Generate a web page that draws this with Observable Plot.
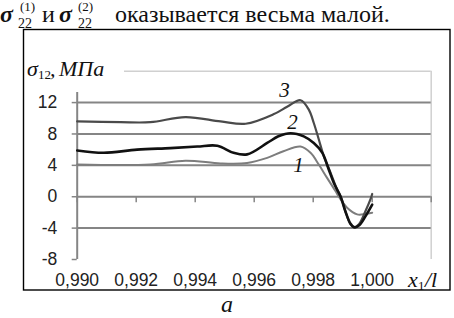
<!DOCTYPE html>
<html><head><meta charset="utf-8">
<script src="https://cdn.jsdelivr.net/npm/d3@7"></script>
<script src="https://cdn.jsdelivr.net/npm/@observablehq/plot@0.6"></script>
<style>
html,body{margin:0;padding:0;background:#fff;}
#wrap{position:relative;width:454px;height:318px;overflow:hidden;background:#fff;}
#wrap > svg{position:absolute;left:0;top:0;}
.ser{font-family:"Liberation Serif","Times New Roman","DejaVu Serif",serif;}
</style></head><body>
<div id="wrap"></div>
<script>
// ---- data ----
const curve1X = [0.99000, 0.99248, 0.99367, 0.99486, 0.99576, 0.99644, 0.99699, 0.99757, 0.99791, 0.99819, 0.99847, 0.99876, 0.99887, 0.99915, 0.99949, 0.99977, 1.00000];
const curve1Y = [4.1, 4.1, 4.6, 4.25, 4.3, 4.95, 5.8, 6.4, 5.6, 4.1, 2.4, 0.7, 0, -1.4, -2.25, -2.2, -2.05];
const curve2X = [0.99000, 0.99090, 0.99203, 0.99316, 0.99407, 0.99475, 0.99530, 0.99576, 0.99644, 0.99682, 0.99723, 0.99768, 0.99802, 0.99831, 0.99853, 0.99870, 0.99893, 0.99909, 0.99926, 0.99940, 0.99957, 0.99977, 1.00000];
const curve2Y = [5.9, 5.6, 6.0, 6.2, 6.4, 6.5, 5.6, 5.4, 6.85, 7.7, 8.1, 7.7, 6.85, 5.6, 3.45, 1.75, 0, -1.85, -3.4, -3.9, -3.6, -2.5, -1.0];
const curve3X = [0.99000, 0.99147, 0.99248, 0.99367, 0.99486, 0.99571, 0.99665, 0.99713, 0.99757, 0.99785, 0.99802, 0.99819, 0.99836, 0.99859, 0.99881, 0.99893, 0.99909, 0.99926, 0.99938, 0.99955, 0.99977, 0.99994, 1.00000];
const curve3Y = [9.6, 9.5, 9.5, 10.15, 9.6, 9.3, 10.5, 11.5, 12.3, 11.1, 9.4, 7.3, 5.15, 3.05, 0.9, 0.05, -1.85, -3.5, -3.9, -3.5, -1.85, -0.35, 0.35];
const curveNames = ["1", "2", "3"];
const xDomain = [0.990, 1.002];
const yDomain = [-8, 16];
const xTickValues = [0.990, 0.992, 0.994, 0.996, 0.998, 1.000, 1.002];
const xLabelValues = [0.990, 0.992, 0.994, 0.996, 0.998, 1.000];
const yTickValues = [-8, -4, 0, 4, 8, 12];
const gridValues = [-4, 0, 4, 8, 12];

// ---- build table ----
const table = [];
[[curve1X, curve1Y], [curve2X, curve2Y], [curve3X, curve3Y]].forEach(([xs, ys], k) =>
  xs.forEach((x, i) => table.push({curve: curveNames[k], x, value: ys[i]})));

const styles = {
  "1": {stroke: "#7d7d7d", strokeWidth: 2, dx: -2, dy: 19},
  "2": {stroke: "#111111", strokeWidth: 2.6, dx: 2, dy: -11},
  "3": {stroke: "#4a4a4a", strokeWidth: 2.2, dx: -16, dy: -10}
};
const drawOrder = ["1", "3", "2"];
const sans = "'Liberation Sans', Arial, sans-serif";
const serif = "'Liberation Serif', 'Times New Roman', 'DejaVu Serif', serif";
const fmt = d => d3.format(".3f")(d).replace(".", ",");

const lineMarks = drawOrder.map(c => Plot.line(table.filter(d => d.curve === c), {
  x: "x", y: "value", curve: "catmull-rom",
  stroke: styles[c].stroke, strokeWidth: styles[c].strokeWidth, strokeLinejoin: "round"
}));
const labelMarks = drawOrder.map(c => Plot.text(table.filter(d => d.curve === c), Plot.selectMaxY({
  x: "x", y: "value", text: d => d.curve, dx: styles[c].dx, dy: styles[c].dy,
  fontSize: 21, fontStyle: "italic", fontFamily: serif, fill: "#111"
})));

const plot = Plot.plot({
  width: 454, height: 318,
  marginLeft: 76.7, marginRight: 23.3, marginTop: 70.7, marginBottom: 59,
  x: {domain: xDomain},
  y: {domain: yDomain},
  style: {background: "transparent"},
  marks: [
    Plot.ruleY([yDomain[1]], {stroke: "#d0d0d0", strokeWidth: 1.5}),
    Plot.ruleX([xDomain[1]], {stroke: "#d0d0d0", strokeWidth: 1.5}),
    Plot.ruleY(gridValues, {stroke: "#858585", strokeWidth: 2}),
    Plot.ruleX([xDomain[0]], {stroke: "#858585", strokeWidth: 2}),
    Plot.ruleX(xTickValues, {y1: () => 0, y2: () => 0, insetBottom: -6, stroke: "#858585", strokeWidth: 1.5}),
    Plot.axisY(yTickValues, {anchor: "left", tickSize: 5, tickPadding: 15, tickFormat: d => String(d),
      stroke: "#858585", strokeWidth: 1.5, fill: "#222", fontSize: 17.5, fontFamily: sans, label: null}),
    Plot.axisX(xLabelValues, {anchor: "bottom", tickSize: 0, tickPadding: 14, tickFormat: fmt,
      fill: "#222", fontSize: 17.5, fontFamily: sans, label: null}),
    ...lineMarks,
    ...labelMarks
  ]
});
const wrap = document.getElementById("wrap");
wrap.appendChild(plot);

// ---- overlay: surrounding text, frame, axis titles ----
const ns = "http://www.w3.org/2000/svg";
const ov = document.createElementNS(ns, "svg");
ov.setAttribute("width", 454); ov.setAttribute("height", 318);
ov.innerHTML = `
<g class="ser" fill="#111">
  <text x="0" y="22" font-size="24" font-weight="bold" font-style="italic">σ</text>
  <text x="20" y="11" font-size="13">(1)</text>
  <text x="18" y="28" font-size="14">22</text>
  <text x="42" y="22" font-size="24">и</text>
  <text x="59" y="22" font-size="24" font-weight="bold" font-style="italic">σ</text>
  <text x="78" y="11" font-size="13">(2)</text>
  <text x="78" y="28" font-size="14">22</text>
  <text x="115" y="22" font-size="24">оказывается весьма малой.</text>
</g>
<rect x="23.5" y="29.5" width="426.5" height="260.5" fill="none" stroke="#000" stroke-width="1.4"/>
<rect x="25" y="40" width="99" height="52" fill="#fff"/>
<g class="ser" fill="#111" font-style="italic">
  <text x="27" y="75.7" font-size="22">σ</text>
  <text x="38" y="79" font-size="13" font-style="normal">12</text>
  <text x="50" y="75.7" font-size="22">,</text>
  <text x="59" y="75.7" font-size="22">МПа</text>
  <text x="408" y="287" font-size="22">x</text>
  <text x="418" y="290" font-size="13" font-style="normal">1</text>
  <text x="425" y="287" font-size="22">/l</text>
  <text x="227" y="312" font-size="24" text-anchor="middle">а</text>
</g>`;
wrap.appendChild(ov);
</script>
</body></html>
